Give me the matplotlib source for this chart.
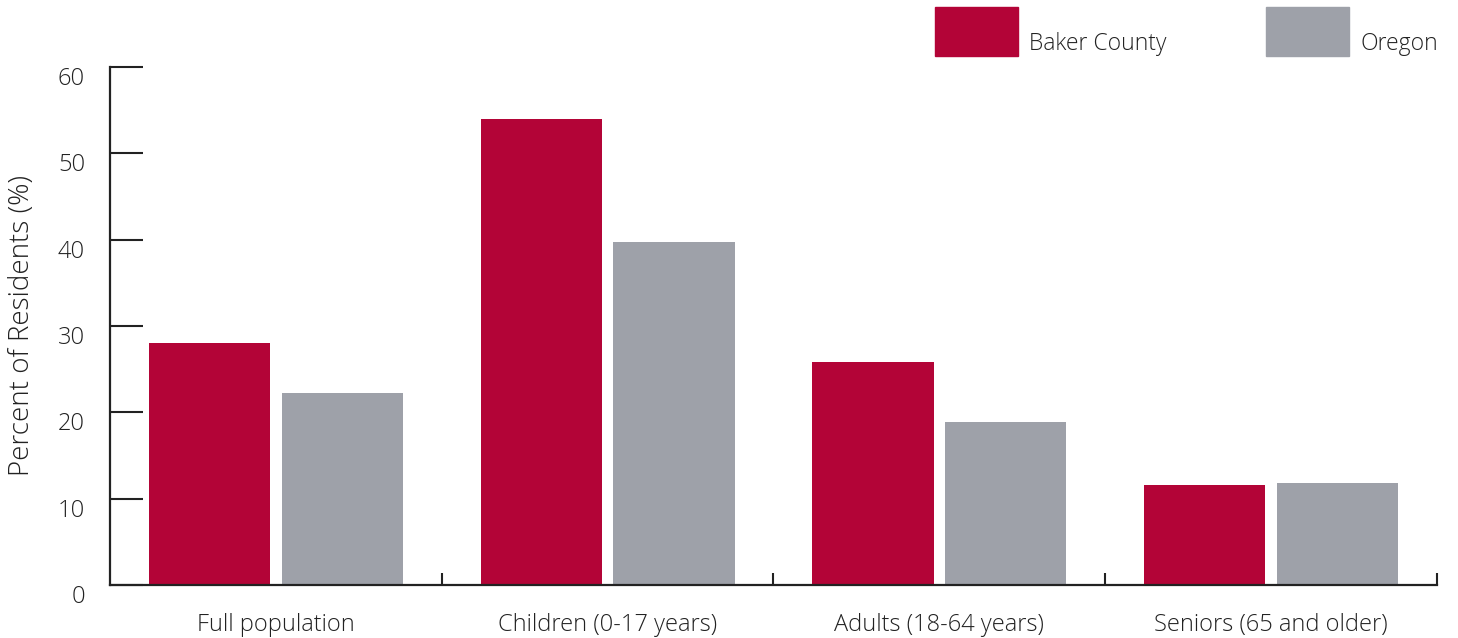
import matplotlib.pyplot as plt
import numpy as np
from matplotlib.patches import Rectangle
import matplotlib.transforms as mtransforms

plt.rcParams['font.family'] = ['Open Sans', 'DejaVu Sans']

categories = ["Full population", "Children (0-17 years)", "Adults (18-64 years)", "Seniors (65 and older)"]
baker = [28.0, 54.0, 25.8, 11.6]
oregon = [22.2, 39.7, 18.9, 11.8]
series_names = ["Baker County", "Oregon"]
yticks = [0, 10, 20, 30, 40, 50, 60]

red = "#B30437"
gray = "#9EA1A9"
txt = "#222222"

fig = plt.figure(figsize=(14.58, 6.38), dpi=100)
ax = fig.add_axes([110/1458, 53/638, 1327/1458, 518/638])

x = np.arange(len(categories))
w = 0.365
ax.bar(x - 0.2, baker, width=w, color=red, zorder=2)
ax.bar(x + 0.2, oregon, width=w, color=gray, zorder=2)

ax.set_xlim(-0.5, 3.5)
ax.set_ylim(0, 60)
for s in ["top", "right"]:
    ax.spines[s].set_visible(False)
for s in ["left", "bottom"]:
    ax.spines[s].set_color("#222222")
    ax.spines[s].set_linewidth(1.6)
    ax.spines[s].set_zorder(3)

ax.set_yticks(yticks)
ax.tick_params(axis="y", direction="in", length=24, width=1.5, color="#222222",
               labelsize=17, labelcolor=txt, pad=18)
offset = mtransforms.ScaledTranslation(0, -0.09, fig.dpi_scale_trans)
for lab in ax.get_yticklabels():
    lab.set_transform(lab.get_transform() + offset)
    lab.set_fontweight("light")

ax.set_xticks(x + 0.5)
ax.set_xticklabels([])
ax.set_xticks(x, minor=True)
ax.set_xticklabels(categories, minor=True)
ax.tick_params(axis="x", which="major", direction="in", length=9, width=1.5, color="#222222")
ax.tick_params(axis="x", which="minor", length=0, labelsize=17, labelcolor=txt, pad=20)
for lab in ax.get_xticklabels(minor=True):
    lab.set_fontweight("light")

ax.set_ylabel("Percent of Residents (%)", fontsize=20, color=txt, fontweight="light", labelpad=16)

# legend
fig.patches.append(Rectangle((935/1458, 1 - 56/638), 83/1458, 49/638,
                             transform=fig.transFigure, color=red))
fig.patches.append(Rectangle((1266/1458, 1 - 56/638), 83/1458, 49/638,
                             transform=fig.transFigure, color=gray))
fig.text(1029/1458, 1 - 50/638, series_names[0], fontsize=16.5, color=txt,
         fontweight="light", va="baseline", ha="left")
fig.text(1360/1458, 1 - 50/638, series_names[1], fontsize=16.5, color=txt,
         fontweight="light", va="baseline", ha="left")

fig.savefig("out.png", dpi=100)
